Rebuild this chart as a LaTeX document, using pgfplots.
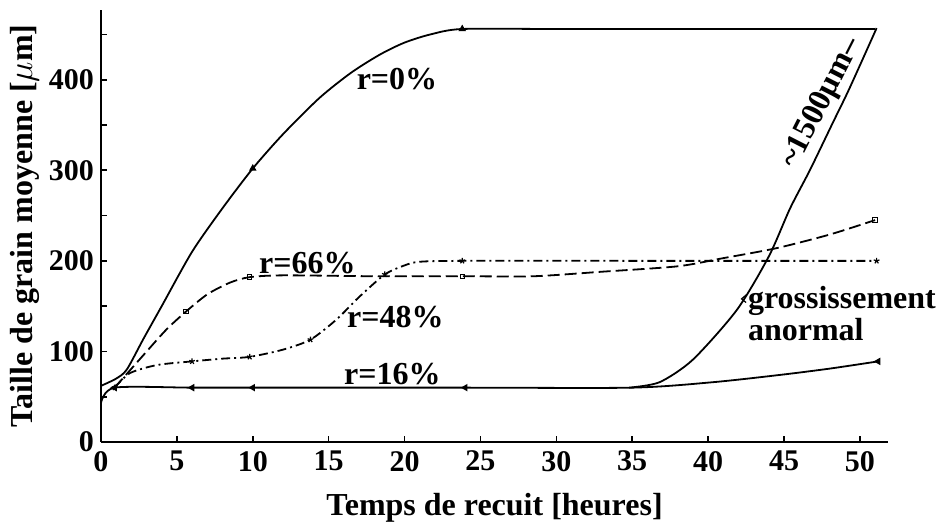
\documentclass[border=0pt]{standalone}
\usepackage{fontspec}
\setmainfont{Liberation Serif}
\usepackage{pgfplots}
\pgfplotsset{compat=1.18}
\begin{document}
\begin{tikzpicture}
\useasboundingbox (-50.5pt,-40pt) rectangle (419pt,221pt);
\begin{axis}[
  scale only axis, width=393.5pt, height=216pt,
  xmin=0, xmax=51.85, ymin=0, ymax=477,
  axis x line*=bottom, axis y line*=left,
  axis line style={line width=1.3pt},
  xtick={0,5,...,50}, ytick={0,100,...,400},
  minor ytick={50,150,...,450},
  tick align=inside, major tick length=3pt, minor tick length=3pt,
  tick style={line width=0.8pt, black},
  /pgf/number format/assume math mode=true,
  ticklabel style={font=\fontsize{15}{15}\selectfont\bfseries},
  xticklabel style={yshift=-1pt},
  xlabel={Temps de recuit [heures]},
  ylabel={Taille de grain moyenne [$\mu$m]},
  label style={font=\fontsize{16}{18}\selectfont\bfseries},
  xlabel style={yshift=-4pt},
  ylabel style={yshift=-2pt},
  clip=false,
  every axis plot/.append style={line width=0.9pt, black},
]
% r=0%
\addplot[smooth, tension=0.45] coordinates {
 (0,62) (1,70) (1.7,80) (2.8,114) (4,150) (6,210) (8,258) (10,302) (12,340)
 (14.4,380) (16.5,408) (18.4,428) (20,441) (21.7,450) (23.8,456) (30,456) (40,456) (51,456)};
\addplot[only marks, mark=triangle*, mark size=1.3pt] coordinates {(10,302) (23.8,456)};
% r=66%
\addplot[smooth, tension=0.45, dash pattern=on 6pt off 2.5pt] coordinates {
 (0.9,60) (2.8,96) (4.3,124) (5.6,144) (7,163) (8.5,176) (9.8,182) (12,184) (18,183)
 (24,183) (28.5,183) (33,188) (38,194) (41,203) (44.5,214) (48,229) (51,245)};
\addplot[only marks, mark=square, mark size=1.1pt, mark options={line width=0.5pt}] coordinates {
 (5.6,144) (9.8,182) (23.8,183) (51,245)};
% r=48%
\addplot[smooth, tension=0.45, dash pattern=on 4.5pt off 2pt on 1pt off 2pt] coordinates {
 (0.9,60) (1.9,76) (3.7,85) (6,89) (8,92) (9.8,94) (12,102) (13.8,113) (15.5,135)
 (17,160) (18.7,185) (20,195) (21,199) (23.8,200) (35,200) (45,200) (51.1,200)};
\addplot[only marks, mark=star, mark size=1.5pt, mark options={line width=0.6pt}] coordinates {
 (0.9,60) (6,89) (9.8,94) (13.8,113) (18.7,185) (23.8,200) (51.1,200)};
% r=16%
\addplot[smooth, tension=0.45] coordinates {
 (0,43) (0.9,60) (6,60) (10,60) (24,60) (35,60) (40.3,66) (44.7,74) (48,81) (51.2,89)};
\addplot[only marks, mark=triangle*, mark size=1.3pt, mark options={rotate=90}] coordinates {
 (0.9,60) (6,60) (10,60) (24,60) (51.2,89)};
% abnormal growth
\addplot[smooth, tension=0.45] coordinates {
 (34.8,60) (36.8,66) (39,91) (41.9,146) (44,205) (45.4,258) (46.7,300) (48.2,352) (49.3,390) (51.1,457)};
% labels
\node[font=\fontsize{16}{18}\selectfont\bfseries] at (axis cs:19.5,401) {r=0\%};
\node[font=\fontsize{16}{18}\selectfont\bfseries] at (axis cs:13.6,197) {r=66\%};
\node[font=\fontsize{16}{18}\selectfont\bfseries] at (axis cs:19.4,138) {r=48\%};
\node[font=\fontsize{16}{18}\selectfont\bfseries] at (axis cs:19.2,75) {r=16\%};
\node[font=\fontsize{16}{14}\selectfont\bfseries, anchor=north west, align=left, inner sep=0pt]
  at (axis cs:42.6,172) {grossissement\\anormal};
\draw[line width=0.6pt] (axis cs:42.55,163) -- (axis cs:42.2,158) -- (axis cs:42.5,154);
\node[font=\fontsize{16}{18}\selectfont\bfseries, rotate=63, anchor=south, inner sep=0.5pt]
  at (axis cs:48.4,366) {\textasciitilde1500µm–};
\end{axis}
\end{tikzpicture}
\end{document}
